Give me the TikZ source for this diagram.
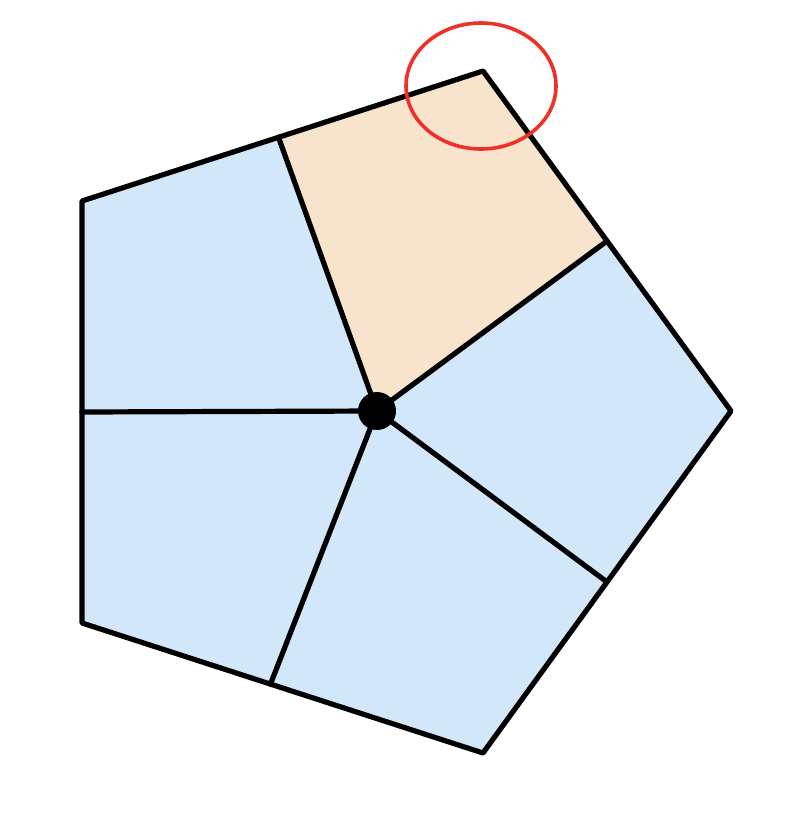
\documentclass[tikz,border=0pt]{standalone}
\definecolor{cellblue}{RGB}{210,232,250}
\definecolor{cellorange}{RGB}{248,228,205}
\definecolor{ringred}{RGB}{238,48,38}
\begin{document}
\begin{tikzpicture}[x=1pt,y=-1pt,
  edge/.style={line width=5.2pt,line join=round,line cap=round}]
\useasboundingbox (0,0) rectangle (794,822);
\coordinate (C) at (377,411);
\coordinate (V1) at (483,71);
\coordinate (V2) at (731,411);
\coordinate (V3) at (483,753);
\coordinate (V4) at (82,623);
\coordinate (V5) at (82,201);
\path (V1) -- (V2) coordinate[pos=0.5] (M12);
\path (V2) -- (V3) coordinate[pos=0.5] (M23);
\path (V3) -- (V4) coordinate[pos=0.53] (M34);
\path (V4) -- (V5) coordinate[pos=0.5] (M45);
\path (V5) -- (V1) coordinate[pos=0.49] (M51);
\fill[cellblue] (V1) -- (V2) -- (V3) -- (V4) -- (V5) -- cycle;
\fill[cellorange] (C) -- (M51) -- (V1) -- (M12) -- cycle;
\draw[edge] (V1) -- (V2) -- (V3) -- (V4) -- (V5) -- cycle;
\draw[edge] (C) -- (M12) (C) -- (M23) (C) -- (M34) (C) -- (M45) (C) -- (M51);
\fill (C) circle (19);
\draw[ringred,line width=3.6pt] (481,86) ellipse (75 and 63);
\end{tikzpicture}
\end{document}
